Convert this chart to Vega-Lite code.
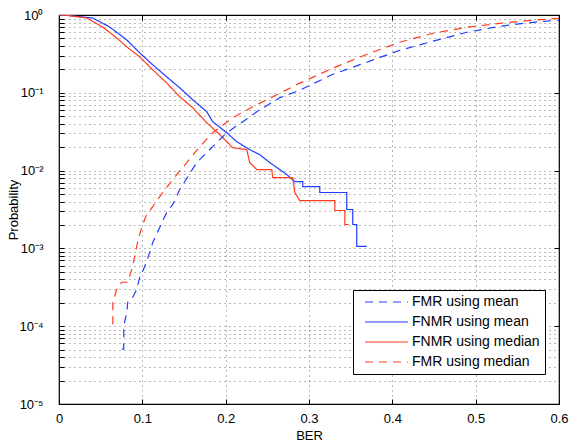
{
  "$schema": "https://vega.github.io/schema/vega-lite/v6.json",
  "width": 500,
  "height": 389,
  "autosize": {"type": "none"},
  "padding": {"left": 59, "top": 15, "right": 10, "bottom": 42},
  "background": "white",
  "config": {
    "font": "Liberation Sans",
    "view": {"stroke": "black", "strokeWidth": 1.2},
    "axis": {
      "domain": false,
      "tickColor": "black",
      "tickSize": -5,
      "labelColor": "black",
      "labelFontSize": 13,
      "titleColor": "black",
      "titleFontSize": 13,
      "titleFontWeight": "normal",
      "gridColor": "#000000",
      "gridOpacity": 0.55,
      "gridDash": [1, 4],
      "gridWidth": 1
    }
  },
  "data": {"values": [
    {"s":"FNMR using mean","i":0,"x":0,"y":1},
    {"s":"FNMR using mean","i":1,"x":0.0092,"y":0.99},
    {"s":"FNMR using mean","i":2,"x":0.0405,"y":0.915},
    {"s":"FNMR using mean","i":3,"x":0.0609,"y":0.70},
    {"s":"FNMR using mean","i":4,"x":0.0813,"y":0.478},
    {"s":"FNMR using mean","i":5,"x":0.0969,"y":0.326},
    {"s":"FNMR using mean","i":6,"x":0.1125,"y":0.229},
    {"s":"FNMR using mean","i":7,"x":0.1293,"y":0.160},
    {"s":"FNMR using mean","i":8,"x":0.1449,"y":0.116},
    {"s":"FNMR using mean","i":9,"x":0.1605,"y":0.0813},
    {"s":"FNMR using mean","i":10,"x":0.1773,"y":0.0571},
    {"s":"FNMR using mean","i":11,"x":0.1845,"y":0.0425},
    {"s":"FNMR using mean","i":12,"x":0.2013,"y":0.0307},
    {"s":"FNMR using mean","i":13,"x":0.2133,"y":0.0235},
    {"s":"FNMR using mean","i":14,"x":0.2289,"y":0.0186},
    {"s":"FNMR using mean","i":15,"x":0.2409,"y":0.0160},
    {"s":"FNMR using mean","i":16,"x":0.2529,"y":0.0127},
    {"s":"FNMR using mean","i":17,"x":0.2649,"y":0.0103},
    {"s":"FNMR using mean","i":18,"x":0.2733,"y":0.0089},
    {"s":"FNMR using mean","i":19,"x":0.2829,"y":0.00723},
    {"s":"FNMR using mean","i":20,"x":0.2925,"y":0.00723},
    {"s":"FNMR using mean","i":21,"x":0.2925,"y":0.00624},
    {"s":"FNMR using mean","i":22,"x":0.3129,"y":0.00624},
    {"s":"FNMR using mean","i":23,"x":0.3129,"y":0.00523},
    {"s":"FNMR using mean","i":24,"x":0.3453,"y":0.00523},
    {"s":"FNMR using mean","i":25,"x":0.3453,"y":0.00316},
    {"s":"FNMR using mean","i":26,"x":0.3525,"y":0.00316},
    {"s":"FNMR using mean","i":27,"x":0.3525,"y":0.00203},
    {"s":"FNMR using mean","i":28,"x":0.3573,"y":0.00203},
    {"s":"FNMR using mean","i":29,"x":0.3573,"y":0.00106},
    {"s":"FNMR using mean","i":30,"x":0.3693,"y":0.00106},

    {"s":"FNMR using median","i":0,"x":0,"y":1},
    {"s":"FNMR using median","i":1,"x":0.0092,"y":0.99},
    {"s":"FNMR using median","i":2,"x":0.0333,"y":0.915},
    {"s":"FNMR using median","i":3,"x":0.0525,"y":0.70},
    {"s":"FNMR using median","i":4,"x":0.0693,"y":0.507},
    {"s":"FNMR using median","i":5,"x":0.0813,"y":0.389},
    {"s":"FNMR using median","i":6,"x":0.0969,"y":0.290},
    {"s":"FNMR using median","i":7,"x":0.1125,"y":0.197},
    {"s":"FNMR using median","i":8,"x":0.1293,"y":0.134},
    {"s":"FNMR using median","i":9,"x":0.1449,"y":0.0889},
    {"s":"FNMR using median","i":10,"x":0.1605,"y":0.0643},
    {"s":"FNMR using median","i":11,"x":0.1773,"y":0.0412},
    {"s":"FNMR using median","i":12,"x":0.1929,"y":0.0290},
    {"s":"FNMR using median","i":13,"x":0.2085,"y":0.0197},
    {"s":"FNMR using median","i":14,"x":0.2253,"y":0.0186},
    {"s":"FNMR using median","i":15,"x":0.2289,"y":0.0127},
    {"s":"FNMR using median","i":16,"x":0.2373,"y":0.0103},
    {"s":"FNMR using median","i":17,"x":0.2553,"y":0.0103},
    {"s":"FNMR using median","i":18,"x":0.2565,"y":0.00813},
    {"s":"FNMR using median","i":19,"x":0.2805,"y":0.00813},
    {"s":"FNMR using median","i":20,"x":0.2829,"y":0.00523},
    {"s":"FNMR using median","i":21,"x":0.2889,"y":0.00412},
    {"s":"FNMR using median","i":22,"x":0.331,"y":0.00412},
    {"s":"FNMR using median","i":23,"x":0.331,"y":0.00307},
    {"s":"FNMR using median","i":24,"x":0.343,"y":0.00307},
    {"s":"FNMR using median","i":25,"x":0.343,"y":0.00203},
    {"s":"FNMR using median","i":26,"x":0.3477,"y":0.00203},

    {"s":"FMR using mean","i":0,"x":0.0753,"y":0.0000507},
    {"s":"FMR using mean","i":1,"x":0.0777,"y":0.0000507},
    {"s":"FMR using mean","i":2,"x":0.0777,"y":0.0001},
    {"s":"FMR using mean","i":3,"x":0.0813,"y":0.000151},
    {"s":"FMR using mean","i":4,"x":0.0825,"y":0.000203},
    {"s":"FMR using mean","i":5,"x":0.0873,"y":0.000222},
    {"s":"FMR using mean","i":6,"x":0.0933,"y":0.000298},
    {"s":"FMR using mean","i":7,"x":0.0969,"y":0.000425},
    {"s":"FMR using mean","i":8,"x":0.1029,"y":0.000587},
    {"s":"FMR using mean","i":9,"x":0.1089,"y":0.000889},
    {"s":"FMR using mean","i":10,"x":0.1125,"y":0.00119},
    {"s":"FMR using mean","i":11,"x":0.1209,"y":0.00186},
    {"s":"FMR using mean","i":12,"x":0.1293,"y":0.0029},
    {"s":"FMR using mean","i":13,"x":0.1365,"y":0.00367},
    {"s":"FMR using mean","i":14,"x":0.1449,"y":0.00571},
    {"s":"FMR using mean","i":15,"x":0.1653,"y":0.0127},
    {"s":"FMR using mean","i":16,"x":0.1845,"y":0.0203},
    {"s":"FMR using mean","i":17,"x":0.2013,"y":0.0307},
    {"s":"FMR using mean","i":18,"x":0.2205,"y":0.0425},
    {"s":"FMR using mean","i":19,"x":0.2409,"y":0.0605},
    {"s":"FMR using mean","i":20,"x":0.2649,"y":0.0863},
    {"s":"FMR using mean","i":21,"x":0.2889,"y":0.108},
    {"s":"FMR using mean","i":22,"x":0.3286,"y":0.173},
    {"s":"FMR using mean","i":23,"x":0.3694,"y":0.247},
    {"s":"FMR using mean","i":24,"x":0.409,"y":0.352},
    {"s":"FMR using mean","i":25,"x":0.4486,"y":0.46},
    {"s":"FMR using mean","i":26,"x":0.4894,"y":0.6},
    {"s":"FMR using mean","i":27,"x":0.5291,"y":0.716},
    {"s":"FMR using mean","i":28,"x":0.5687,"y":0.806},
    {"s":"FMR using mean","i":29,"x":0.6,"y":0.86},

    {"s":"FMR using median","i":0,"x":0.0646,"y":0.000106},
    {"s":"FMR using median","i":1,"x":0.0646,"y":0.000203},
    {"s":"FMR using median","i":2,"x":0.0693,"y":0.000298},
    {"s":"FMR using median","i":3,"x":0.0753,"y":0.000367},
    {"s":"FMR using median","i":4,"x":0.0825,"y":0.000367},
    {"s":"FMR using median","i":5,"x":0.0873,"y":0.000538},
    {"s":"FMR using median","i":6,"x":0.0909,"y":0.000789},
    {"s":"FMR using median","i":7,"x":0.0945,"y":0.00123},
    {"s":"FMR using median","i":8,"x":0.0993,"y":0.00186},
    {"s":"FMR using median","i":9,"x":0.1041,"y":0.00257},
    {"s":"FMR using median","i":10,"x":0.1125,"y":0.00345},
    {"s":"FMR using median","i":11,"x":0.1209,"y":0.00464},
    {"s":"FMR using median","i":12,"x":0.1365,"y":0.00767},
    {"s":"FMR using median","i":13,"x":0.1533,"y":0.0127},
    {"s":"FMR using median","i":14,"x":0.1689,"y":0.0203},
    {"s":"FMR using median","i":15,"x":0.1845,"y":0.0307},
    {"s":"FMR using median","i":16,"x":0.2085,"y":0.0478},
    {"s":"FMR using median","i":17,"x":0.2325,"y":0.0662},
    {"s":"FMR using median","i":18,"x":0.2565,"y":0.0889},
    {"s":"FMR using median","i":19,"x":0.2889,"y":0.133},
    {"s":"FMR using median","i":20,"x":0.3286,"y":0.207},
    {"s":"FMR using median","i":21,"x":0.3694,"y":0.313},
    {"s":"FMR using median","i":22,"x":0.409,"y":0.446},
    {"s":"FMR using median","i":23,"x":0.4486,"y":0.582},
    {"s":"FMR using median","i":24,"x":0.4894,"y":0.695},
    {"s":"FMR using median","i":25,"x":0.5291,"y":0.782},
    {"s":"FMR using median","i":26,"x":0.5687,"y":0.855},
    {"s":"FMR using median","i":27,"x":0.6,"y":0.908}
  ]},
  "layer": [
    {
      "mark": {"type": "line", "clip": true},
      "encoding": {
        "x": {
          "field": "x", "type": "quantitative",
          "scale": {"domain": [0, 0.6], "nice": false, "zero": false},
          "axis": {
            "title": "BER",
            "values": [0, 0.1, 0.2, 0.3, 0.4, 0.5, 0.6],
            "format": "~g",
            "labelFlush": false,
            "labelPadding": 13,
            "titlePadding": 4,
            "grid": true
          }
        },
        "y": {
          "field": "y", "type": "quantitative",
          "scale": {"type": "log", "domain": [0.00001, 1], "nice": false},
          "axis": {
            "title": "Probability",
            "titleX": -39,
            "labelPadding": 21,
            "grid": true,
            "values": [0.00001,0.00002,0.00003,0.00004,0.00005,0.00006,0.00007,0.00008,0.00009,
                       0.0001,0.0002,0.0003,0.0004,0.0005,0.0006,0.0007,0.0008,0.0009,
                       0.001,0.002,0.003,0.004,0.005,0.006,0.007,0.008,0.009,
                       0.01,0.02,0.03,0.04,0.05,0.06,0.07,0.08,0.09,
                       0.1,0.2,0.3,0.4,0.5,0.6,0.7,0.8,0.9,1],
            "labelExpr": "datum.value == 1 ? '10⁰' : datum.value == 0.1 ? '10⁻¹' : datum.value == 0.01 ? '10⁻²' : datum.value == 0.001 ? '10⁻³' : datum.value == 0.0001 ? '10⁻⁴' : datum.value == 0.00001 ? '10⁻⁵' : ''"
          }
        },
        "order": {"field": "i", "type": "quantitative"},
        "color": {
          "field": "s", "type": "nominal",
          "scale": {
            "domain": ["FMR using mean", "FNMR using mean", "FNMR using median", "FMR using median"],
            "range": ["#1f3cff", "#1f3cff", "#ff3b1f", "#ff3b1f"]
          },
          "legend": {
            "title": null,
            "orient": "none",
            "legendX": 294,
            "legendY": 275,
            "strokeColor": "black",
            "fillColor": "white",
            "padding": 5,
            "rowPadding": 6,
            "symbolType": "M0,0H8.6",
            "symbolSize": 100,
            "labelOffset": 40,
            "labelFontSize": 14,
            "labelColor": "black"
          }
        },
        "strokeDash": {
          "field": "s", "type": "nominal",
          "scale": {
            "domain": ["FMR using mean", "FNMR using mean", "FNMR using median", "FMR using median"],
            "range": [[8, 6], [1, 0], [1, 0], [8, 6]]
          },
          "legend": {
            "title": null,
            "orient": "none",
            "legendX": 294,
            "legendY": 275
          }
        },
        "strokeWidth": {
          "field": "s", "type": "nominal",
          "scale": {
            "domain": ["FMR using mean", "FNMR using mean", "FNMR using median", "FMR using median"],
            "range": [1.2, 1.2, 2, 1.2]
          },
          "legend": {
            "title": null,
            "orient": "none",
            "legendX": 294,
            "legendY": 275
          }
        }
      }
    },
    {
      "mark": {"type": "point", "opacity": 0},
      "encoding": {
        "x": {
          "field": "x", "type": "quantitative",
          "axis": {
            "orient": "top", "title": null, "labels": false, "grid": false,
            "values": [0, 0.1, 0.2, 0.3, 0.4, 0.5, 0.6]
          }
        },
        "y": {
          "field": "y", "type": "quantitative",
          "axis": {
            "orient": "right", "title": null, "labels": false, "grid": false,
            "values": [0.00001,0.0001,0.001,0.01,0.1,1]
          }
        }
      }
    }
  ],
  "resolve": {"axis": {"x": "independent", "y": "independent"}}
}
